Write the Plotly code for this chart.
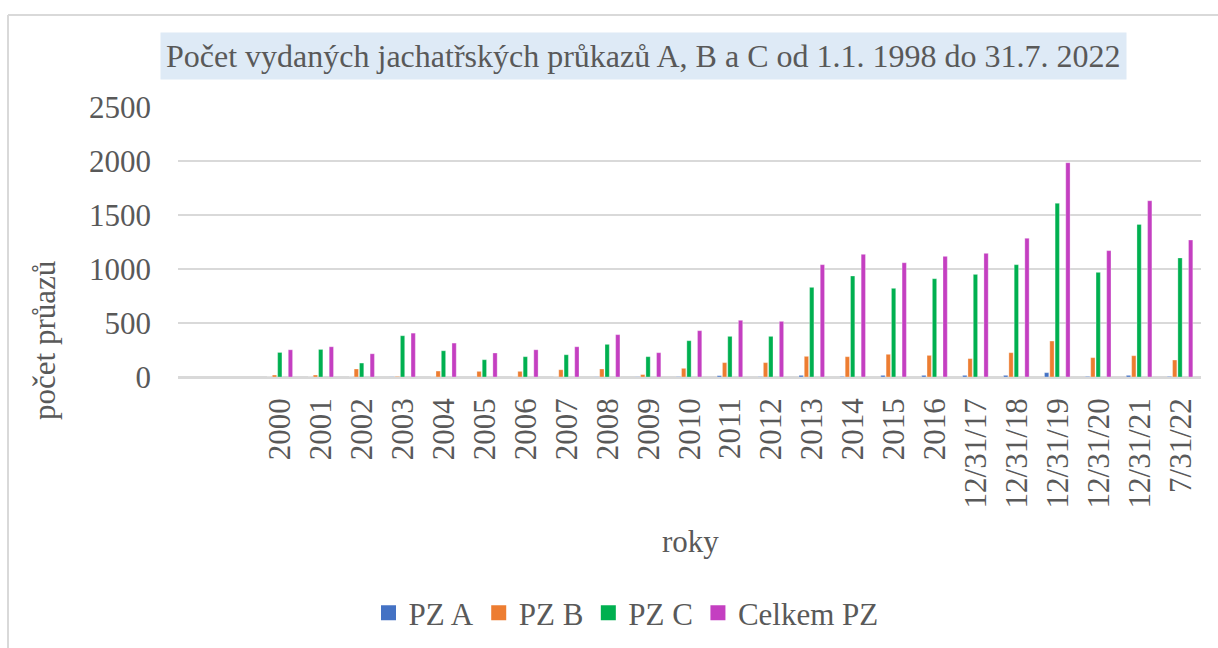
import plotly.graph_objects as go

# ---- data ----
categories = ["", "", "2000", "2001", "2002", "2003", "2004", "2005", "2006", "2007",
              "2008", "2009", "2010", "2011", "2012", "2013", "2014", "2015", "2016",
              "12/31/17", "12/31/18", "12/31/19", "12/31/20", "12/31/21", "7/31/22"]
pz_a = [None, None, 0, 0, 0, 2, 0, 2, 0, 0, 2, 2, 3, 12, 3, 15, 5, 15, 15, 15, 15, 40, 5, 15, 5]
pz_b = [None, None, 18, 18, 74, 5, 55, 52, 52, 67, 74, 22, 80, 133, 133, 191, 188, 210, 200,
        170, 225, 333, 179, 197, 157]
pz_c = [None, None, 227, 255, 129, 382, 243, 160, 188, 206, 302, 188, 336, 376, 376, 830,
        935, 821, 910, 950, 1040, 1608, 969, 1413, 1102]
celkem = [None, None, 252, 280, 215, 406, 314, 222, 252, 280, 392, 225, 429, 525, 515, 1040,
          1136, 1058, 1117, 1145, 1284, 1984, 1170, 1632, 1268]
series_names = ["PZ A", "PZ B", "PZ C", "Celkem PZ"]
y_ticks = [0, 500, 1000, 1500, 2000, 2500]

title_text = "Počet vydaných jachatřských průkazů A, B a C od 1.1. 1998 do 31.7. 2022"
x_title = "roky"
y_title = "počet průazů"

# ---- layout constants ----
W, H = 1218, 648
L, R, T, B = 178, 17, 107, 271
PW, PH = W - L - R, H - T - B
FONT = "Liberation Serif"
GREY = "#595959"
GRID = "#D9D9D9"

def px_x(p):
    return (p - L) / PW

def px_y(p):
    return (H - B - p) / PH

x = list(range(len(categories)))
colors = ["#4472C4", "#ED7D31", "#00B050", "#C43FC1"]
offsets = [-0.325, -0.195, -0.065, 0.195]
bw = 0.105

fig = go.Figure()
for name, vals, col, off in zip(series_names, [pz_a, pz_b, pz_c, celkem], colors, offsets):
    fig.add_trace(go.Bar(
        x=x, y=vals, name=name, marker_color=col,
        marker_line=dict(color="rgba(255,255,255,0.6)", width=0.5),
        width=bw, offset=off, showlegend=False, legendgroup=name,
    ))
# legend entries (square swatches)
for name, col in zip(series_names, colors):
    fig.add_trace(go.Scatter(
        x=[None], y=[None], mode="markers", name=name, legendgroup=name,
        marker=dict(symbol="square", size=15, color=col), showlegend=True,
    ))

fig.update_layout(
    width=W, height=H,
    margin=dict(l=L, r=R, t=T, b=B, autoexpand=False),
    paper_bgcolor="white", plot_bgcolor="white",
    barmode="overlay",
    font=dict(family=FONT, color=GREY, size=31),
    showlegend=True,
    legend=dict(orientation="h", x=px_x(626), xanchor="center", y=px_y(613), yanchor="middle",
                font=dict(size=31, color=GREY, family=FONT), bgcolor="rgba(0,0,0,0)",
                itemclick=False, itemdoubleclick=False),
    xaxis=dict(range=[-0.5, len(categories) - 0.5], tickmode="array", tickvals=x,
               ticktext=categories, tickangle=-90, showgrid=False, showline=True,
               linecolor=GRID, linewidth=1.5, ticks="", ticklabelstandoff=7,
               tickfont=dict(size=31, color=GREY, family=FONT), zeroline=False),
    yaxis=dict(range=[0, 2500], tickvals=y_ticks, showgrid=True, gridcolor=GRID, gridwidth=1.5,
               zeroline=True, zerolinecolor=GRID, zerolinewidth=1.5, showline=False, ticks="",
               ticklabelstandoff=26, tickfont=dict(size=31, color=GREY, family=FONT)),
    annotations=[
        dict(text=title_text, xref="paper", yref="paper", x=px_x(643), y=px_y(56),
             xanchor="center", yanchor="middle", showarrow=False, bgcolor="#DEEAF6",
             borderpad=5, font=dict(size=32, color=GREY, family=FONT)),
        dict(text=x_title, xref="paper", yref="paper", x=px_x(690), y=px_y(541),
             xanchor="center", yanchor="middle", showarrow=False,
             font=dict(size=31, color=GREY, family=FONT)),
        dict(text=y_title, xref="paper", yref="paper", x=px_x(44), y=px_y(341),
             xanchor="center", yanchor="middle", showarrow=False, textangle=-90,
             font=dict(size=31, color=GREY, family=FONT)),
    ],
    shapes=[
        dict(type="line", xref="paper", yref="paper", x0=px_x(8), x1=px_x(1225),
             y0=px_y(15), y1=px_y(15), line=dict(color=GRID, width=2)),
        dict(type="line", xref="paper", yref="paper", x0=px_x(8), x1=px_x(8),
             y0=px_y(15), y1=px_y(660), line=dict(color=GRID, width=2)),
    ],
)

fig.write_html("out.html", config={"displayModeBar": False},
               post_script="document.body.style.margin='0px';")
